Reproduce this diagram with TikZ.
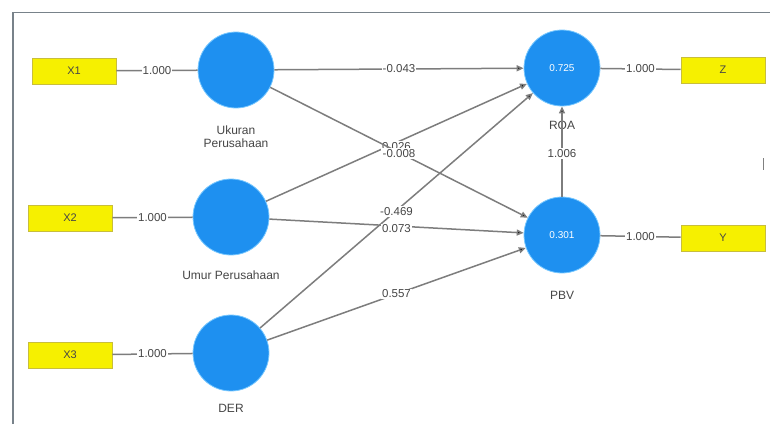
\documentclass[tikz,border=0pt]{standalone}
\usepackage{fontspec}
\setmainfont{Liberation Sans}
\usetikzlibrary{arrows.meta}
\definecolor{lvblue}{RGB}{30,144,240}
\definecolor{lvedge}{RGB}{120,200,255}
\definecolor{mvyel}{RGB}{246,240,0}
\definecolor{mvedge}{RGB}{200,190,60}
\definecolor{linkgray}{RGB}{125,125,125}
\definecolor{framegray}{RGB}{120,130,138}
\definecolor{txtgray}{RGB}{70,70,70}
\tikzset{
  latent/.style={circle, fill=lvblue, draw=lvedge, line width=0.8pt, minimum size=76pt, inner sep=0pt, text=white, font=\fontsize{10}{11}\selectfont},
  manifest/.style={rectangle, fill=mvyel, draw=mvedge, line width=0.8pt, minimum width=84pt, minimum height=26pt, inner sep=0pt, font=\fontsize{11}{12}\selectfont, text=txtgray},
  link/.style={draw=linkgray, line width=1.5pt},
  path/.style={draw=linkgray, line width=1.5pt, -{Triangle[length=7pt,width=6pt,fill=black]}},
  coef/.style={fill=white, inner sep=1pt, font=\fontsize{11.5}{12}\selectfont, text=txtgray},
  lvname/.style={font=\fontsize{12}{13}\selectfont, text=txtgray, align=center}
}
\begin{document}
\begin{tikzpicture}[x=1pt,y=-1pt]
\useasboundingbox (0,0) rectangle (770,424);
\fill[white] (0,0) rectangle (770,424);
% frame
\draw[framegray, line width=1.8pt] (13,424) -- (13,12.5) -- (770,12.5);
\coordinate (m1) at (763,158);
\coordinate (m2) at (763,170);
\draw[gray, line width=0.8pt] (m1) -- (m2);

% manifest variables
\node[manifest] (x1) at (74,71) {X1};
\node[manifest] (x2) at (70,218) {X2};
\node[manifest] (x3) at (70,355) {X3};
\node[manifest] (z) at (723,70) {Z};
\node[manifest] (y) at (723,238) {Y};

% latent variables
\node[latent] (uk) at (236,70) {};
\node[latent] (um) at (231,217) {};
\node[latent] (der) at (231,353) {};
\node[latent] (roa) at (562,68) {0.725};
\node[latent] (pbv) at (562,235) {0.301};

% latent names
\node[lvname] (ukl) at (236,137) {Ukuran\\Perusahaan};
\node[lvname] (uml) at (231,275) {Umur Perusahaan};
\node[lvname] (derl) at (231,408) {DER};
\node[lvname] (roal) at (562,125) {ROA};
\node[lvname] (pbvl) at (562,295) {PBV};

% outer links
\draw[link] (x1) -- node[coef] {1.000} (uk);
\draw[link] (x2) -- node[coef] {1.000} (um);
\draw[link] (x3) -- node[coef] {1.000} (der);
\draw[link] (roa) -- node[coef] {1.000} (z);
\draw[link] (pbv) -- node[coef] {1.000} (y);

% inner paths
\draw[path] (uk) -- node[coef] {-0.043} (roa);
\draw[path] (um) -- node[coef, yshift=-4pt] {0.026} (roa);
\draw[path] (uk) -- node[coef, yshift=-1pt] {-0.008} (pbv);
\draw[path] (der) -- node[coef, yshift=-1pt] {-0.469} (roa);
\draw[path] (um) -- node[coef, yshift=-3pt] {0.073} (pbv);
\draw[path] (der) -- node[coef] {0.557} (pbv);
\draw[path] (pbv) -- node[coef, yshift=-2pt] {1.006} (roa);
\end{tikzpicture}
\end{document}
